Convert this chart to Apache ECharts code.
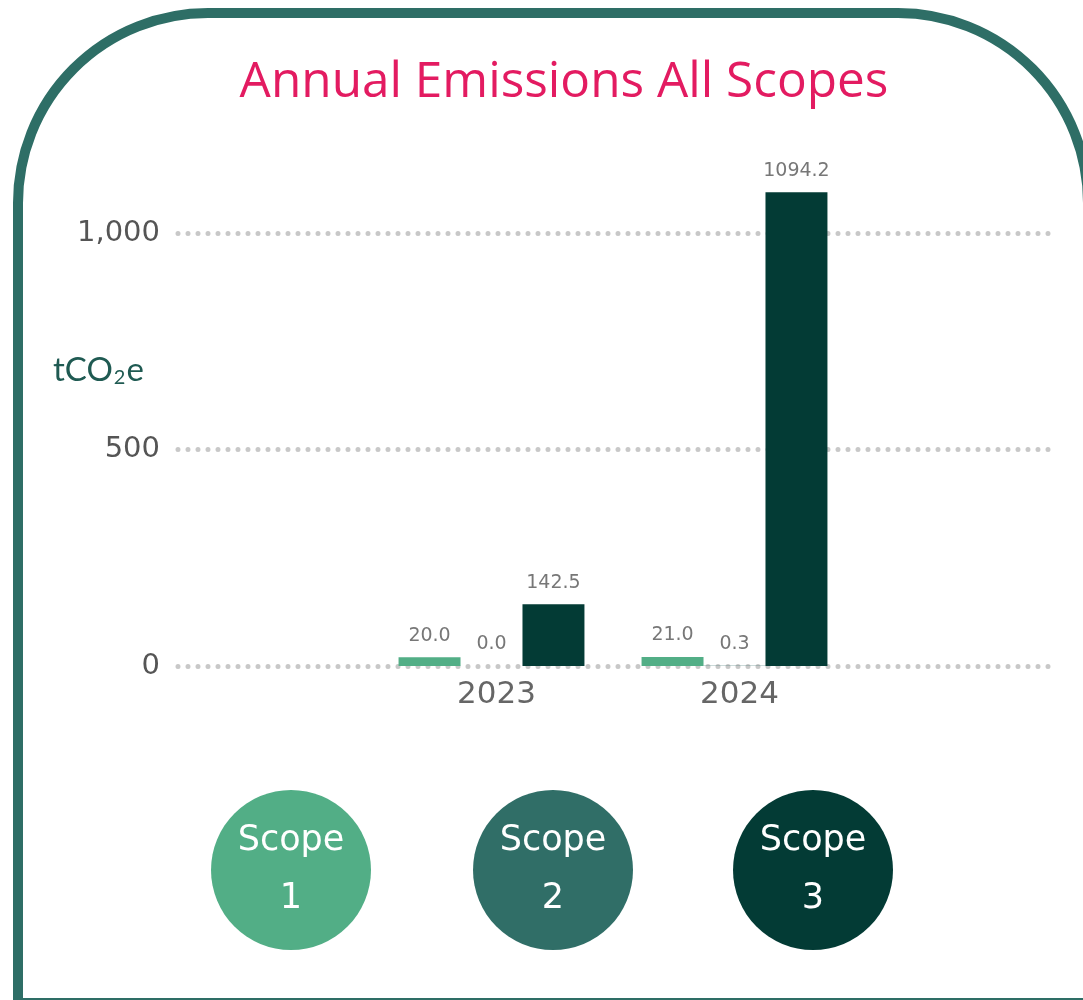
<!DOCTYPE html>
<html>
<head>
<meta charset="utf-8">
<script src="https://cdn.jsdelivr.net/npm/echarts@6/dist/echarts.min.js"></script>
<style>
html,body{margin:0;padding:0;background:#fff;}
#chart{width:1083px;height:1000px;}
</style>
</head>
<body>
<div id="chart"></div>
<script>
var titleText = 'Annual Emissions All Scopes';
var years = ['2023', '2024'];
var scopeNames = ['Scope 1', 'Scope 2', 'Scope 3'];
var scope1 = [20.0, 21.0];
var scope2 = [0.0, 0.3];
var scope3 = [142.5, 1094.2];
var yTicks = [0, 500, 1000];
var unitLabel = 'tCO{s|2}e';

var colors = ['#52ae86', '#306e67', '#033b35'];
var FONT = 'Lato';
var TFONT = 'Open Sans';
var NFONT = 'DejaVu Sans';
var seriesValues = [scope1, scope2, scope3];

var chart = echarts.init(document.getElementById('chart'), null, {renderer: 'canvas'});

var series = seriesValues.map(function (vals, i) {
  return {
    name: scopeNames[i],
    type: 'bar',
    xAxisIndex: 1,
    yAxisIndex: 1,
    data: vals,
    barGap: '0%',
    barCategoryGap: '23.5%',
    itemStyle: {color: colors[i]},
    label: {
      show: true,
      position: 'top',
      distance: 12,
      fontFamily: NFONT,
      fontSize: 19,
      color: '#777777',
      formatter: function (p) { return p.value.toFixed(1); }
    }
  };
});

var legendGraphics = [];
var legendX = [291, 553, 813];
scopeNames.forEach(function (name, i) {
  var parts = name.split(' ');
  legendGraphics.push({
    type: 'circle',
    shape: {cx: legendX[i], cy: 870, r: 80},
    style: {fill: colors[i]},
    z: 10
  });
  legendGraphics.push({
    type: 'text',
    x: legendX[i], y: 841,
    style: {text: parts[0], fill: '#ffffff', font: '35px ' + NFONT, textAlign: 'center', textVerticalAlign: 'middle'},
    z: 11
  });
  legendGraphics.push({
    type: 'text',
    x: legendX[i], y: 899,
    style: {text: parts[1], fill: '#ffffff', font: '35px ' + NFONT, textAlign: 'center', textVerticalAlign: 'middle'},
    z: 11
  });
});

var option = {
  backgroundColor: '#ffffff',
  animation: false,
  title: {
    text: titleText,
    left: 559,
    textAlign: 'center',
    top: 53,
    textStyle: {fontFamily: TFONT, fontSize: 49.5, fontWeight: 'normal', color: '#e31b61'}
  },
  grid: [
    {left: 178, right: 29, top: 233, bottom: 334},
    {left: 370, right: 227, top: 146.4, bottom: 334}
  ],
  xAxis: [
    {gridIndex: 0, type: 'category', data: years, show: false},
    {
      gridIndex: 1, type: 'category', data: years,
      axisLine: {show: false}, axisTick: {show: false},
      axisLabel: {fontFamily: NFONT, fontSize: 31, color: '#666666', margin: 13, padding: [0, 0, 0, 10]}
    }
  ],
  yAxis: [
    {
      gridIndex: 0, type: 'value', min: yTicks[0], max: yTicks[yTicks.length - 1], interval: yTicks[1] - yTicks[0],
      axisLine: {show: false}, axisTick: {show: false},
      axisLabel: {
        fontFamily: NFONT, fontSize: 29, color: '#555555', margin: 18,
        formatter: function (v) { return v.toLocaleString('en-US'); }
      },
      splitLine: {lineStyle: {type: [0, 10], cap: 'round', width: 5, color: '#c8c8c8'}}
    },
    {gridIndex: 1, type: 'value', min: 0, max: 1200, show: false, splitLine: {show: false}}
  ],
  series: series,
  graphic: [
    {
      type: 'rect',
      shape: {x: 18, y: 13, width: 1070, height: 990, r: [190, 190, 0, 0]},
      style: {fill: 'none', stroke: '#2e6e66', lineWidth: 10},
      z: 0
    },
    {
      type: 'text',
      x: 53, y: 370,
      style: {
        text: unitLabel, fill: '#1f5a52', font: '33px ' + FONT, textVerticalAlign: 'middle',
        rich: {s: {fontSize: 20, fill: '#1f5a52', fontFamily: FONT, padding: [16, 1, 0, 1]}}
      },
      z: 5
    }
  ].concat(legendGraphics)
};

chart.setOption(option);
</script>
</body>
</html>
